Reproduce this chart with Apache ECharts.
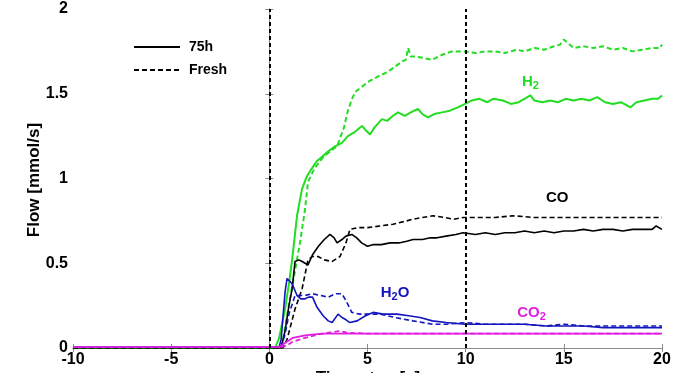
<!DOCTYPE html>
<html><head><meta charset="utf-8">
<script src="https://cdn.jsdelivr.net/npm/echarts@6/dist/echarts.min.js"></script>
<style>html,body{margin:0;padding:0;background:#fff}#c{width:683px;height:373px}</style>
</head><body><div id="c"></div>
<script>
// ---- data: [time s, flow mmol/s] ----
const h2_75h = [[-10,0],[0.3,0],[0.5,0.06],[0.8,0.23],[1.0,0.38],[1.16,0.52],[1.41,0.78],[1.67,0.94],[1.9,1.01],[2.17,1.06],[2.4,1.10],[2.7,1.13],[3.0,1.16],[3.35,1.19],[3.7,1.21],[4.0,1.25],[4.3,1.27],[4.72,1.31],[4.95,1.28],[5.13,1.26],[5.35,1.30],[5.74,1.35],[6.0,1.34],[6.3,1.37],[6.56,1.39],[6.9,1.37],[7.2,1.39],[7.57,1.41],[7.8,1.38],[8.08,1.36],[8.4,1.38],[8.8,1.39],[9.2,1.40],[9.6,1.42],[9.97,1.44],[10.3,1.46],[10.7,1.47],[11.1,1.45],[11.4,1.47],[11.9,1.46],[12.3,1.44],[12.7,1.45],[13.3,1.49],[13.5,1.46],[13.9,1.45],[14.3,1.46],[14.7,1.45],[15.1,1.47],[15.5,1.46],[15.9,1.47],[16.3,1.46],[16.7,1.48],[17.1,1.45],[17.5,1.44],[17.9,1.45],[18.4,1.42],[18.7,1.45],[19.1,1.46],[19.5,1.47],[19.8,1.47],[20,1.49]];
const h2_fresh = [[-10,0],[0.5,0],[0.65,0.02],[1.05,0.29],[1.3,0.45],[1.56,0.62],[1.82,0.82],[1.97,0.98],[2.3,1.06],[2.7,1.12],[3.1,1.16],[3.45,1.19],[3.8,1.30],[4.0,1.40],[4.21,1.47],[4.37,1.51],[4.7,1.54],[5.03,1.57],[5.5,1.60],[6.05,1.63],[6.4,1.66],[6.76,1.69],[6.95,1.70],[7.07,1.77],[7.2,1.72],[7.42,1.72],[7.9,1.71],[8.29,1.70],[8.8,1.73],[9.3,1.75],[9.97,1.75],[10.5,1.74],[11.0,1.75],[11.5,1.75],[12.0,1.74],[12.6,1.76],[13.0,1.75],[13.5,1.77],[14.0,1.76],[14.5,1.78],[14.8,1.79],[15.0,1.82],[15.2,1.80],[15.5,1.77],[16.0,1.78],[16.5,1.77],[17.0,1.78],[17.5,1.76],[18.0,1.77],[18.5,1.75],[19.0,1.76],[19.5,1.77],[19.9,1.77],[20,1.79]];
const co_75h = [[-10,0],[0.6,0],[0.8,0.1],[1.0,0.25],[1.16,0.35],[1.31,0.51],[1.5,0.52],[1.67,0.51],[1.97,0.49],[2.2,0.55],[2.5,0.60],[2.8,0.64],[3.09,0.67],[3.3,0.65],[3.45,0.62],[3.7,0.64],[3.9,0.66],[4.2,0.67],[4.45,0.65],[4.7,0.62],[5.0,0.60],[5.3,0.61],[5.7,0.61],[6.15,0.62],[6.6,0.62],[7.0,0.63],[7.32,0.64],[7.8,0.64],[8.2,0.65],[8.54,0.65],[9.0,0.66],[9.5,0.67],[9.87,0.68],[10.5,0.67],[11.0,0.68],[11.5,0.67],[12.0,0.68],[12.5,0.68],[13.0,0.69],[13.5,0.68],[14.0,0.69],[14.5,0.68],[15.0,0.69],[15.5,0.69],[16.0,0.70],[16.5,0.69],[17.0,0.70],[17.5,0.70],[18.0,0.69],[18.5,0.70],[19.0,0.70],[19.5,0.70],[19.7,0.72],[20,0.70]];
const co_fresh = [[-10,0],[0.7,0],[0.9,0.05],[1.31,0.23],[1.67,0.35],[1.97,0.52],[2.2,0.54],[2.48,0.54],[2.8,0.52],[3.19,0.51],[3.6,0.54],[3.9,0.62],[4.11,0.70],[4.5,0.71],[5.0,0.71],[5.64,0.72],[6.3,0.73],[7.0,0.75],[7.32,0.76],[7.8,0.77],[8.34,0.78],[8.9,0.77],[9.4,0.76],[9.87,0.77],[10.5,0.77],[11.5,0.77],[12.4,0.78],[13.5,0.77],[14.5,0.77],[15.5,0.77],[16.5,0.77],[17.5,0.77],[18.5,0.77],[19.5,0.77],[20,0.77]];
const h2o_75h = [[-10,0.005],[0.5,0.005],[0.6,0.05],[0.8,0.33],[0.9,0.41],[1.0,0.40],[1.16,0.38],[1.41,0.31],[1.6,0.29],[1.82,0.29],[2.0,0.30],[2.2,0.30],[2.43,0.24],[2.74,0.19],[3.0,0.16],[3.2,0.15],[3.5,0.20],[3.7,0.18],[3.86,0.17],[4.1,0.15],[4.47,0.16],[4.9,0.19],[5.28,0.21],[5.8,0.20],[6.5,0.20],[7.1,0.19],[7.68,0.18],[8.3,0.16],[9.0,0.15],[9.97,0.14],[11.0,0.14],[12.0,0.14],[13.0,0.14],[14.1,0.13],[15.0,0.13],[16.0,0.13],[17.0,0.12],[17.5,0.12],[18.5,0.12],[19.5,0.12],[20,0.12]];
const h2o_fresh = [[-10,0.005],[0.6,0.005],[0.8,0.08],[1.0,0.2],[1.31,0.31],[1.56,0.31],[1.82,0.31],[2.2,0.32],[2.6,0.31],[3.0,0.30],[3.35,0.32],[3.7,0.32],[3.9,0.28],[4.2,0.21],[4.6,0.20],[5.0,0.20],[5.64,0.20],[6.4,0.18],[7.32,0.16],[8.34,0.14],[9.0,0.14],[10,0.15],[11,0.14],[12,0.14],[13,0.14],[14.1,0.13],[15,0.14],[16,0.13],[17,0.13],[18,0.13],[19,0.13],[20,0.13]];
const co2_75h = [[-10,0.005],[0.5,0.005],[0.8,0.03],[1.2,0.06],[1.82,0.075],[2.68,0.085],[3.5,0.085],[5,0.085],[7,0.085],[10,0.085],[15,0.085],[20,0.085]];
const co2_fresh = [[-10,0.005],[0.6,0.005],[0.9,0.015],[1.16,0.035],[1.82,0.06],[2.5,0.08],[3.0,0.09],[3.6,0.10],[4.0,0.09],[5,0.085],[7,0.085],[10,0.085],[15,0.085],[20,0.085]];
const switchTimes = [0, 10];
const legendNames = ['75h', 'Fresh'];
const xTitle = 'Time step [s]';
const yTitle = 'Flow [mmol/s]';
const xTicks = {min: -10, max: 20, interval: 5};
const yTicks = {min: 0, max: 2, interval: 0.5};
// species labels: [text rich, x, y]
const speciesLabels = [
  {fmt: '{g|H}{gs|2}', at: [13.3, 1.57]},
  {fmt: '{k|CO}', at: [14.66, 0.885]},
  {fmt: '{b|H}{bs|2}{b|O}', at: [6.4, 0.325]},
  {fmt: '{m|CO}{ms|2}', at: [13.35, 0.21]}
];

const GREEN = '#22dd22', BLUE = '#1414c0', MAG = '#e01ee0', BLACK = '#000';
const FONT = 'Liberation Sans, Arial, sans-serif';
function line(name, data, color, dashed, width) {
  return {type: 'line', name: name, data: data, symbol: 'none', silent: true, animation: false,
    itemStyle: {color: color},
    lineStyle: {color: color, width: width || 1.6, type: dashed ? [5, 3] : 'solid'}, z: 3};
}
const sub = (c) => ({color: c, fontSize: 11, fontWeight: 'bold', fontFamily: FONT, padding: [9, 0, 0, 0]});
const main = (c) => ({color: c, fontSize: 15, fontWeight: 'bold', fontFamily: FONT});

const series = [
  line('H2 75h', h2_75h, GREEN, false, 2),
  line('H2 fresh', h2_fresh, GREEN, true, 2),
  line('CO 75h', co_75h, BLACK, false, 1.6),
  line('CO fresh', co_fresh, BLACK, true, 1.6),
  line('H2O 75h', h2o_75h, BLUE, false, 1.6),
  line('H2O fresh', h2o_fresh, BLUE, true, 1.6),
  line('CO2 75h', co2_75h, MAG, false, 1.8),
  line('CO2 fresh', co2_fresh, MAG, true, 1.8),
  line(legendNames[0], [], BLACK, false, 2),
  line(legendNames[1], [], BLACK, true, 2)
];
series[0].markLine = {silent: true, symbol: ['none', 'none'], label: {show: false}, animation: false,
  lineStyle: {color: '#000', width: 2, type: [4, 3]},
  data: switchTimes.map(t => ({xAxis: t}))};
series[2].markPoint = {silent: true, symbol: 'circle', symbolSize: 0, animation: false,
  data: speciesLabels.map(l => ({coord: l.at, label: {show: true, position: 'inside', formatter: l.fmt,
    rich: {g: main(GREEN), gs: sub(GREEN), k: main(BLACK), b: main(BLUE), bs: sub(BLUE), m: main(MAG), ms: sub(MAG)}}}))};

const axisLineStyle = {lineStyle: {color: '#8a8a8a', width: 1}};
const tickStyle = {show: true, inside: true, length: 4, lineStyle: {color: '#8a8a8a'}};
const labelStyle = {color: '#000', fontSize: 16, fontWeight: 'bold', fontFamily: FONT};

const chart = echarts.init(document.getElementById('c'), null, {renderer: 'canvas'});
chart.setOption({
  animation: false,
  backgroundColor: '#fff',
  grid: {left: 73, right: 21, top: 9, bottom: 25, containLabel: false, outerBoundsMode: 'none'},
  legend: {data: legendNames, orient: 'vertical', left: 128, top: 35, itemWidth: 46, itemHeight: 14, itemGap: 9,
    selectedMode: false, itemStyle: {opacity: 0},
    textStyle: {color: '#000', fontSize: 14, fontWeight: 'bold', fontFamily: FONT, padding: [0, 0, 0, 4]}},
  graphic: [
    {type: 'text', x: 34, y: 180, rotation: Math.PI / 2, silent: true,
      style: {text: yTitle, fill: '#000', font: 'bold 17px ' + FONT, align: 'center', verticalAlign: 'middle'}},
    {type: 'text', x: 368, y: 370, silent: true,
      style: {text: xTitle, fill: '#000', font: 'bold 17px ' + FONT, align: 'center', verticalAlign: 'top'}}
  ],
  xAxis: [
    Object.assign({type: 'value', position: 'bottom', axisLine: axisLineStyle, axisTick: tickStyle,
      axisLabel: Object.assign({margin: 4}, labelStyle), splitLine: {show: false}}, xTicks),
    Object.assign({type: 'value', position: 'top', axisLine: axisLineStyle, axisTick: tickStyle,
      axisLabel: {show: false}, splitLine: {show: false}}, xTicks)
  ],
  yAxis: [
    Object.assign({type: 'value', position: 'left', axisLine: {show: true, lineStyle: axisLineStyle.lineStyle}, axisTick: tickStyle,
      axisLabel: Object.assign({margin: 5}, labelStyle), splitLine: {show: false}}, yTicks),
    Object.assign({type: 'value', position: 'right', axisLine: {show: true, lineStyle: axisLineStyle.lineStyle}, axisTick: tickStyle,
      axisLabel: {show: false}, splitLine: {show: false}}, yTicks)
  ],
  series: series
});
</script></body></html>
